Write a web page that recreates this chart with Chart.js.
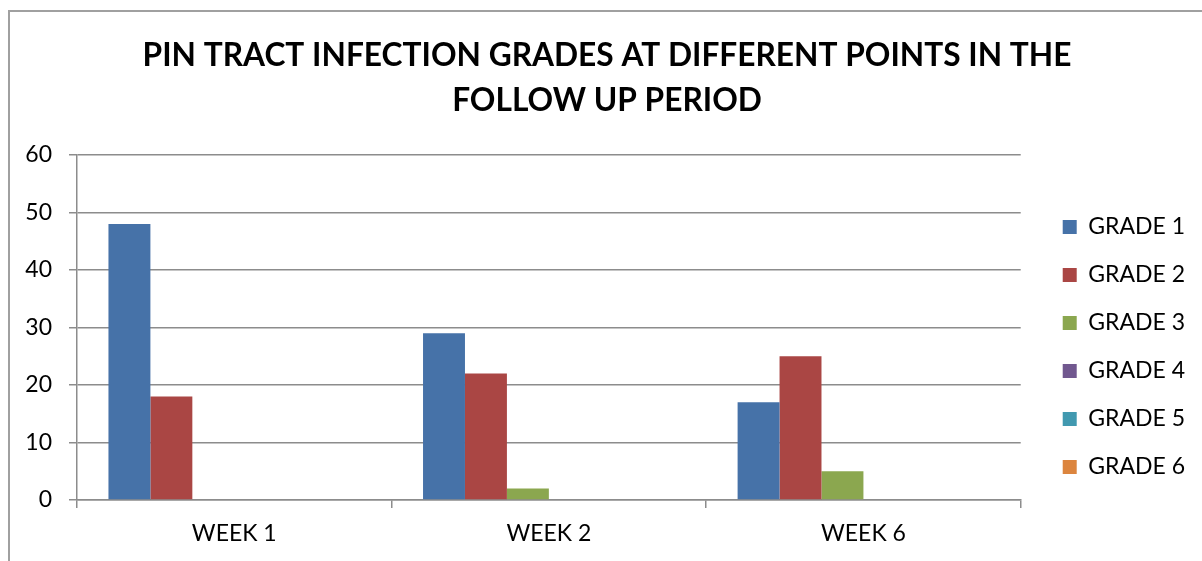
<!DOCTYPE html>
<html>
<head>
<meta charset="utf-8">
<script src="https://cdn.jsdelivr.net/npm/chart.js@4/dist/chart.umd.min.js"></script>
<style>
  html, body { margin: 0; padding: 0; background: #fff; overflow: hidden; }
  #frame {
    position: absolute; left: 8px; top: 10px; width: 2000px; height: 2000px;
    border-left: 2px solid #a0a0a0; border-top: 2px solid #a0a0a0;
  }
  #chart { position: absolute; left: 0; top: 0; }
</style>
</head>
<body>
<div id="frame"></div>
<canvas id="chart" width="1202" height="561"></canvas>
<script>
// data
const weeks = ['WEEK 1', 'WEEK 2', 'WEEK 6'];
const grades = ['GRADE 1', 'GRADE 2', 'GRADE 3', 'GRADE 4', 'GRADE 5', 'GRADE 6'];
const grade1 = [48, 29, 17];
const grade2 = [18, 22, 25];
const grade3 = [0, 2, 5];
const grade4 = [0, 0, 0];
const grade5 = [0, 0, 0];
const grade6 = [0, 0, 0];
const yTicks = [0, 10, 20, 30, 40, 50, 60];

const colors = ['#4672A8', '#AA4644', '#8BA74F', '#71588F', '#4199B0', '#DC853E'];
const series = [grade1, grade2, grade3, grade4, grade5, grade6];

const FONT = 'Lato, "Open Sans", sans-serif';
const GRID = '#8c8c8c';

// nudge legend and title to where Excel put them
const nudge = {
  id: 'nudge',
  afterLayout(chart) {
    const lg = chart.legend;
    lg.left += 17;
    lg.right += 17;
    const dy = 226 - 165;
    lg.top += dy;
    lg.bottom += dy;
    const tb = chart.titleBlock;
    tb.left += 18;
    tb.right += 18;
  }
};

new Chart(document.getElementById('chart'), {
  type: 'bar',
  data: {
    labels: weeks,
    datasets: series.map((vals, i) => ({
      label: grades[i],
      data: vals,
      backgroundColor: colors[i],
      borderWidth: 0,
      categoryPercentage: 0.8,
      barPercentage: 1.0,
    })),
  },
  options: {
    responsive: false,
    animation: false,
    devicePixelRatio: 1,
    layout: { padding: { top: 11, right: 24, bottom: 0, left: 0 } },
    plugins: {
      tooltip: { enabled: false },
      title: {
        display: true,
        text: ['PIN TRACT INFECTION GRADES AT DIFFERENT POINTS IN THE', 'FOLLOW UP PERIOD'],
        color: '#000',
        font: { family: FONT, size: 31.7, weight: 'bold', lineHeight: 45 / 31.7 },
        padding: { top: 22, bottom: 32 },
      },
      legend: {
        position: 'right',
        labels: {
          boxWidth: 14,
          boxHeight: 14,
          padding: 25,
          color: '#000',
          font: { family: FONT, size: 23 },
        },
      },
    },
    scales: {
      x: {
        offset: true,
        grid: { display: true, drawOnChartArea: false, drawTicks: true, tickLength: 8, color: GRID, lineWidth: 1.5 },
        border: { display: true, color: GRID, width: 1.5 },
        ticks: { color: '#000', font: { family: FONT, size: 23 }, padding: 12 },
        afterFit(scale) { scale.height = 61; },
      },
      y: {
        min: 0,
        max: 60,
        afterBuildTicks(scale) { scale.ticks = yTicks.map(v => ({ value: v })); },
        grid: { color: GRID, lineWidth: 1.5, tickLength: 8 },
        border: { display: true, color: GRID, width: 1.5 },
        ticks: { color: '#000', font: { family: FONT, size: 23 }, padding: 17 },
        afterFit(scale) { scale.width = 77; },
      },
    },
  },
  plugins: [nudge],
});
</script>
</body>
</html>
